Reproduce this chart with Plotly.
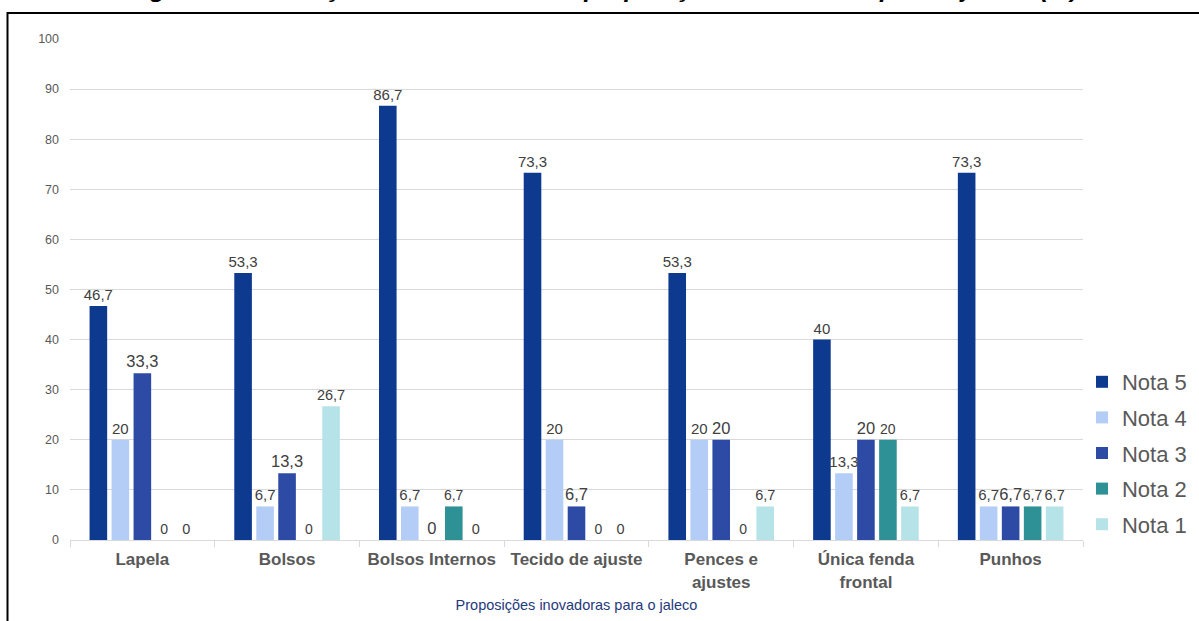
import plotly.graph_objects as go

categories = ["Lapela", "Bolsos", "Bolsos Internos", "Tecido de ajuste",
              "Pences e<br>ajustes", "Única fenda<br>frontal", "Punhos"]
series_names = ["Nota 5", "Nota 4", "Nota 3", "Nota 2", "Nota 1"]
nota5 = [46.7, 53.3, 86.7, 73.3, 53.3, 40, 73.3]
nota4 = [20, 6.7, 6.7, 20, 20, 13.3, 6.7]
nota3 = [33.3, 13.3, 0, 6.7, 20, 20, 6.7]
nota2 = [0, 0, 6.7, 0, 0, 20, 6.7]
nota1 = [0, 26.7, 0, 0, 6.7, 6.7, 6.7]
y_ticks = [0, 10, 20, 30, 40, 50, 60, 70, 80, 90, 100]
title_text = "Figura 5 – Avaliação de cada uma das proposições inovadoras para o jaleco (%)"
x_title = "Proposições inovadoras para o jaleco"

colors = ["#0d3a8f", "#b4cdf7", "#2d4ba5", "#2e9196", "#b5e3e8"]
label_sizes = [15, 15, 16.5, 14, 14.5]

W, H = 1199, 621
# plot area in page pixels: left 70, right 1083, top 39, bottom 540
L, T = 70, 39
R = W - 1083
B = H - 540
pw, ph = W - L - R, H - T - B

def fmt(v):
    return f"{v:g}".replace(".", ",")

fig = go.Figure()
for name, vals, col, fs in zip(series_names, [nota5, nota4, nota3, nota2, nota1], colors, label_sizes):
    fig.add_trace(go.Bar(
        name=name, x=categories, y=vals, marker_color=col,
        marker_line_width=0,
        text=[fmt(v) for v in vals], textposition="outside",
        textfont=dict(size=fs, color="#404040"),
        constraintext="none", cliponaxis=False, legendgroup=name,
    ))

def px_x(sx):
    return (sx - L) / pw

def px_y(sy):
    return (H - B - sy) / ph

fig.add_shape(type="rect", xref="paper", yref="paper",
              x0=px_x(7.5), x1=px_x(1230), y0=px_y(13), y1=px_y(660),
              line=dict(color="black", width=2), fillcolor="rgba(0,0,0,0)", layer="below")

fig.add_annotation(text=f"<b><i>{title_text}</i></b>", xref="paper", yref="paper",
                   x=px_x(603), y=px_y(4), xanchor="center", yanchor="bottom",
                   showarrow=False, font=dict(size=25, color="black"))

fig.update_layout(
    width=W, height=H,
    margin=dict(l=L, r=R, t=T, b=B, autoexpand=False),
    paper_bgcolor="white", plot_bgcolor="white",
    font=dict(family="Arial, Liberation Sans, sans-serif", color="#595959"),
    barmode="group", bargap=0.24, bargroupgap=0.2,
    legend=dict(x=0.999, y=px_y(453), xanchor="left", yanchor="middle",
                font=dict(size=22, color="#595959"), tracegroupgap=4,
                itemwidth=30, bgcolor="rgba(0,0,0,0)"),
    xaxis=dict(tickfont=dict(size=17, color="#595959", weight="bold"),
               showline=True, linecolor="#d9d9d9", linewidth=1,
               ticks="outside", tickson="boundaries", ticklen=6, tickcolor="#d9d9d9",
               ticklabelstandoff=4,
               title=dict(text=x_title, font=dict(size=14.5, color="#1f3a7a"), standoff=9)),
    yaxis=dict(range=[0, 100], tickvals=y_ticks, showgrid=True, gridcolor="#d9d9d9",
               gridwidth=1, zeroline=False, tickfont=dict(size=12.5, color="#595959"),
               ticklabelstandoff=10),
)

fig.write_html("out.html", config={"displayModeBar": False},
               post_script="document.body.style.margin='0';document.body.style.overflow='hidden';")
